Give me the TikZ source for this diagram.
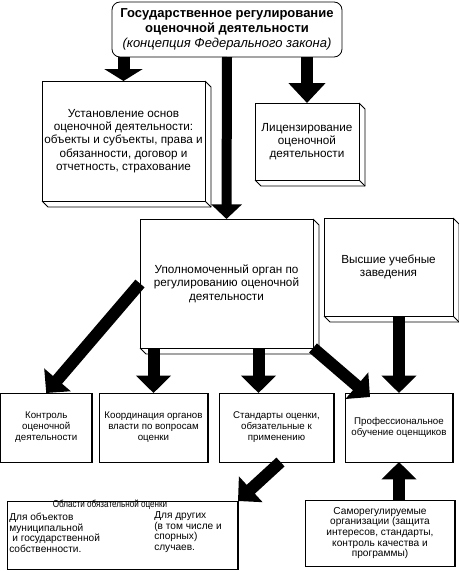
\documentclass[tikz,border=0pt]{standalone}
\usepackage{graphicx}
\usepackage{fontspec}
\setmainfont{Liberation Sans}
\usetikzlibrary{arrows.meta,calc}
\newcommand{\mkthreed}[1]{%
  \draw[edge3d] (#1.north east) -- ++(6,6) |- ($(#1.south west)+(6,6)$) -- (#1.south west);
  \draw[edge3d] (#1.south east) -- ++(6,6);}
\newcommand{\mkright}[1]{\draw[line width=1.2pt] (#1.north east) -- (#1.south east);}
\begin{document}
\begin{tikzpicture}[x=0.75pt,y=-0.75pt,
  box/.style={draw, fill=white, line width=0.6pt, inner sep=0pt, outer sep=0pt, anchor=north west, align=center},
  mainf/.style={font=\fontsize{8.8}{10}\selectfont},
  smallf/.style={font=\fontsize{7.3}{8.25}\selectfont},
  bottomf/.style={font=\fontsize{7.6}{7.9}\selectfont},
  edge3d/.style={line width=0.6pt},
  bigarrow/.style={line width=9pt, -{Triangle[length=13pt,width=25.5pt]}},
]
\useasboundingbox (0,0) rectangle (459,571);

% boxes
\node[box, rounded corners=6pt, minimum width=172.5pt, minimum height=41.25pt,
      font=\fontsize{9.75}{11.5}\selectfont] (top) at (112,2)
  {\textbf{Государственное регулирование}\\\textbf{оценочной деятельности}\\\textit{(концепция Федерального закона)}};

\node[box, mainf, minimum width=122.25pt, minimum height=90pt] (inst) at (42,81)
  {Установление основ\\оценочной деятельности:\\объекты и субъекты, права и\\обязанности, договор и\\отчетность, страхование};
\mkthreed{inst}

\node[box, mainf, minimum width=78pt, minimum height=57.75pt] (lic) at (255,103)
  {Лицензирование\\оценочной\\деятельности};
\mkthreed{lic}

\node[box, mainf, minimum width=129.75pt, minimum height=96.75pt] (upol) at (140,219)
  {Уполномоченный орган по\\регулированию оценочной\\деятельности};
\mkthreed{upol}

\node[box, mainf, minimum width=96.75pt, minimum height=73.5pt] (vys) at (324,218)
  {Высшие учебные\\заведения};
\mkthreed{vys}

\node[box, smallf, minimum width=68.6pt, minimum height=51.75pt] (kontrol) at (0.5,393)
  {Контроль\\оценочной\\деятельности};
\node[box, smallf, minimum width=81.75pt, minimum height=51.75pt] (koord) at (99,393)
  {Координация органов\\власти по вопросам\\оценки};
\node[box, smallf, minimum width=86.25pt, minimum height=51.75pt] (std) at (219,393)
  {Стандарты оценки,\\обязательные к\\применению};
\node[box, smallf, minimum width=81pt, minimum height=51.75pt] (prof) at (345,393)
  {Профессиональное\\обучение оценщиков};

\node[box, minimum width=173.25pt, minimum height=51pt] (obl) at (7,501) {};
\node[bottomf, inner sep=0pt] (obltitle) at (110,505) {\scalebox{0.8}[1]{Области обязательной оценки}};
\node[bottomf, inner sep=0pt, anchor=west, align=left] (oblleft) at (9,533)
  {Для объектов\\муниципальной\\\hspace*{0.3em}и государственной\\собственности.};
\node[bottomf, inner sep=0pt, anchor=west, align=left] (oblright) at (154,532)
  {Для других\\(в том числе и\\спорных)\\случаев.};

\node[box, bottomf, minimum width=112.5pt, minimum height=49.5pt] (samo) at (305,500)
  {Саморегулируемые\\организации (защита\\интересов, стандарты,\\контроль качества и\\программы)};

\mkright{kontrol}
\mkright{koord}
\mkright{std}
\mkright{prof}
\mkright{obl}
\mkright{samo}

% named free ends
\coordinate (stdin) at ($(std.north)+(-18,0)$);
\coordinate (profin) at ($(prof.north west)+(25,4)$);
\coordinate (stdout) at ($(std.south)+(4,0)$);

% arrows
\draw[bigarrow, -{Triangle[length=9pt,width=28.5pt]}] (top.south -| inst.north) -- (inst.north);
\draw[line width=7.5pt, -{Triangle[length=11pt,width=22.5pt]}] (top.south) -- (upol.north);
\draw[bigarrow, -{Triangle[length=15pt,width=27pt]}] (top.south -| lic.north) -- (lic.north);
\draw[bigarrow] (upol.west) -- (kontrol.north);
\draw[bigarrow] (upol.south -| koord.north) -- (koord.north);
\draw[bigarrow] (upol.south -| stdin) -- (stdin);
\draw[bigarrow] (upol.south east) -- (profin);
\draw[bigarrow] (vys.south -| prof.north) -- (prof.north);
\draw[bigarrow] (stdout) -- (obl.north east);
\draw[bigarrow] (samo.north -| prof.south) -- (prof.south);
\end{tikzpicture}
\end{document}
